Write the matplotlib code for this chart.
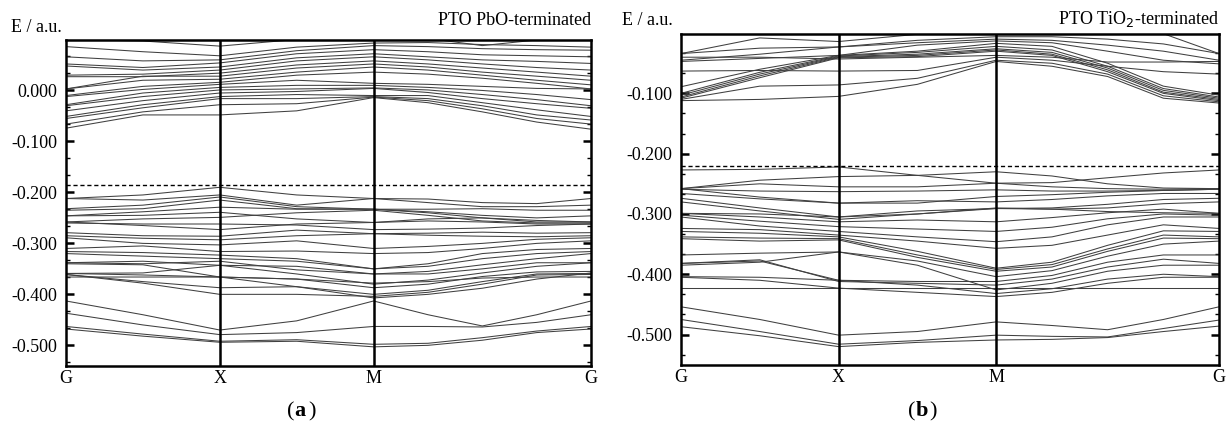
import numpy as np
import matplotlib.pyplot as plt
from matplotlib.ticker import MultipleLocator

plt.rcParams['font.family'] = ['Liberation Serif', 'DejaVu Serif']

# k-path: G, G-X mid, X, X-M mid, M, M-G quarters, G  (M-G is sqrt(2) long)
kpath = [0.0, 0.5, 1.0, 1.5, 2.0, 2.354, 2.707, 3.061, 3.414]
klabels = ['G', 'X', 'M', 'G']
kticks = [0.0, 1.0, 2.0, 3.414]

# (a) PbO-terminated, energies in a.u.
a_upper = [
    [0.100, 0.097, 0.087, 0.100, 0.103, 0.102, 0.088, 0.099, 0.100],
    [0.086, 0.076, 0.068, 0.085, 0.093, 0.094, 0.090, 0.088, 0.085],
    [0.066, 0.058, 0.060, 0.078, 0.088, 0.086, 0.082, 0.080, 0.079],
    [0.052, 0.045, 0.054, 0.072, 0.080, 0.076, 0.070, 0.068, 0.066],
    [0.048, 0.040, 0.046, 0.064, 0.072, 0.066, 0.060, 0.057, 0.053],
    [0.030, 0.032, 0.040, 0.058, 0.066, 0.060, 0.052, 0.045, 0.040],
    [0.027, 0.027, 0.034, 0.050, 0.058, 0.052, 0.044, 0.036, 0.028],
    [0.003, 0.028, 0.028, 0.044, 0.052, 0.046, 0.036, 0.028, 0.020],
    [0.003, 0.020, 0.022, 0.036, 0.046, 0.040, 0.030, 0.020, 0.011],
    [-0.010, 0.008, 0.016, 0.030, 0.036, 0.032, 0.024, 0.014, 0.003],
    [-0.012, 0.002, 0.012, 0.020, 0.014, 0.012, 0.008, 0.004, 0.003],
    [-0.028, -0.005, 0.006, 0.010, 0.010, 0.006, 0.000, -0.008, -0.018],
    [-0.030, -0.012, 0.001, 0.003, 0.005, 0.001, -0.008, -0.018, -0.030],
    [-0.040, -0.020, -0.005, -0.002, 0.004, -0.004, -0.016, -0.026, -0.035],
    [-0.051, -0.028, -0.012, -0.008, -0.010, -0.010, -0.024, -0.038, -0.051],
    [-0.055, -0.034, -0.016, -0.016, -0.012, -0.016, -0.030, -0.048, -0.058],
    [-0.066, -0.042, -0.028, -0.026, -0.013, -0.020, -0.036, -0.055, -0.066],
    [-0.074, -0.048, -0.048, -0.040, -0.014, -0.024, -0.042, -0.062, -0.076],
]
a_middle = [
    [-0.212, -0.205, -0.190, -0.205, -0.212, -0.213, -0.220, -0.222, -0.212],
    [-0.212, -0.215, -0.205, -0.225, -0.212, -0.220, -0.228, -0.228, -0.225],
    [-0.232, -0.225, -0.209, -0.228, -0.233, -0.233, -0.232, -0.235, -0.235],
    [-0.235, -0.232, -0.215, -0.232, -0.233, -0.238, -0.245, -0.250, -0.246],
    [-0.246, -0.238, -0.229, -0.233, -0.233, -0.240, -0.250, -0.258, -0.258],
    [-0.246, -0.245, -0.239, -0.252, -0.259, -0.252, -0.250, -0.255, -0.258],
    [-0.258, -0.252, -0.249, -0.240, -0.235, -0.245, -0.256, -0.260, -0.260],
    [-0.258, -0.265, -0.273, -0.262, -0.259, -0.256, -0.258, -0.262, -0.262],
    [-0.260, -0.262, -0.262, -0.264, -0.273, -0.272, -0.270, -0.265, -0.262],
    [-0.279, -0.285, -0.286, -0.274, -0.281, -0.280, -0.278, -0.280, -0.279],
    [-0.285, -0.290, -0.293, -0.285, -0.281, -0.284, -0.286, -0.287, -0.285],
    [-0.289, -0.300, -0.303, -0.295, -0.310, -0.306, -0.300, -0.292, -0.289],
    [-0.310, -0.305, -0.316, -0.315, -0.320, -0.318, -0.310, -0.300, -0.295],
    [-0.316, -0.318, -0.323, -0.330, -0.350, -0.340, -0.320, -0.312, -0.310],
    [-0.320, -0.325, -0.330, -0.335, -0.350, -0.345, -0.330, -0.320, -0.316],
    [-0.338, -0.335, -0.343, -0.345, -0.360, -0.355, -0.342, -0.330, -0.320],
    [-0.338, -0.340, -0.335, -0.352, -0.360, -0.360, -0.350, -0.338, -0.338],
    [-0.359, -0.358, -0.343, -0.360, -0.380, -0.372, -0.358, -0.345, -0.338],
    [-0.359, -0.362, -0.366, -0.370, -0.387, -0.380, -0.365, -0.356, -0.355],
    [-0.361, -0.375, -0.387, -0.385, -0.400, -0.392, -0.375, -0.360, -0.359],
    [-0.361, -0.378, -0.400, -0.400, -0.404, -0.396, -0.380, -0.362, -0.361],
    [-0.340, -0.342, -0.366, -0.385, -0.407, -0.400, -0.388, -0.370, -0.358],
    [-0.366, -0.366, -0.366, -0.370, -0.378, -0.375, -0.368, -0.366, -0.366],
]
a_lower = [
    [-0.413, -0.440, -0.470, -0.452, -0.413, -0.440, -0.462, -0.440, -0.413],
    [-0.437, -0.460, -0.479, -0.475, -0.463, -0.463, -0.464, -0.455, -0.440],
    [-0.463, -0.478, -0.492, -0.489, -0.498, -0.496, -0.485, -0.472, -0.463],
    [-0.468, -0.482, -0.494, -0.492, -0.503, -0.500, -0.490, -0.475, -0.468],
]
fermi_a = -0.186

# (b) TiO2-terminated
b_upper = [
    [-0.034, -0.008, -0.014, -0.002, 0.008, 0.010, 0.008, -0.001, -0.034],
    [-0.034, -0.025, -0.023, -0.012, -0.006, -0.006, -0.010, -0.018, -0.034],
    [-0.045, -0.035, -0.023, -0.016, -0.010, -0.012, -0.020, -0.030, -0.045],
    [-0.047, -0.042, -0.037, -0.020, -0.013, -0.016, -0.030, -0.045, -0.051],
    [-0.063, -0.062, -0.063, -0.062, -0.040, -0.045, -0.055, -0.064, -0.068],
    [-0.089, -0.060, -0.037, -0.030, -0.017, -0.022, -0.050, -0.088, -0.103],
    [-0.100, -0.065, -0.038, -0.032, -0.022, -0.028, -0.055, -0.092, -0.106],
    [-0.103, -0.068, -0.039, -0.035, -0.026, -0.032, -0.058, -0.095, -0.108],
    [-0.106, -0.071, -0.040, -0.037, -0.028, -0.035, -0.061, -0.098, -0.110],
    [-0.108, -0.074, -0.041, -0.039, -0.030, -0.037, -0.064, -0.100, -0.112],
    [-0.110, -0.088, -0.086, -0.075, -0.045, -0.050, -0.068, -0.104, -0.114],
    [-0.112, -0.110, -0.105, -0.085, -0.047, -0.055, -0.072, -0.108, -0.116],
    [-0.040, -0.040, -0.043, -0.040, -0.037, -0.040, -0.048, -0.048, -0.047],
]
b_middle = [
    [-0.227, -0.226, -0.222, -0.236, -0.249, -0.248, -0.240, -0.232, -0.227],
    [-0.258, -0.244, -0.238, -0.236, -0.230, -0.237, -0.250, -0.257, -0.258],
    [-0.258, -0.250, -0.255, -0.255, -0.249, -0.255, -0.258, -0.259, -0.258],
    [-0.259, -0.262, -0.263, -0.262, -0.260, -0.262, -0.262, -0.261, -0.259],
    [-0.258, -0.272, -0.282, -0.282, -0.271, -0.268, -0.264, -0.261, -0.259],
    [-0.266, -0.275, -0.282, -0.278, -0.280, -0.276, -0.270, -0.266, -0.266],
    [-0.274, -0.290, -0.305, -0.295, -0.291, -0.290, -0.284, -0.276, -0.274],
    [-0.280, -0.295, -0.309, -0.300, -0.291, -0.292, -0.290, -0.283, -0.280],
    [-0.299, -0.305, -0.313, -0.310, -0.313, -0.306, -0.298, -0.292, -0.299],
    [-0.302, -0.312, -0.321, -0.325, -0.329, -0.322, -0.308, -0.300, -0.302],
    [-0.305, -0.320, -0.329, -0.338, -0.346, -0.338, -0.318, -0.305, -0.305],
    [-0.324, -0.326, -0.335, -0.345, -0.357, -0.352, -0.335, -0.318, -0.324],
    [-0.329, -0.332, -0.338, -0.362, -0.390, -0.380, -0.352, -0.328, -0.329],
    [-0.338, -0.340, -0.341, -0.368, -0.392, -0.384, -0.358, -0.335, -0.338],
    [-0.341, -0.345, -0.343, -0.372, -0.395, -0.388, -0.362, -0.340, -0.341],
    [-0.368, -0.365, -0.363, -0.378, -0.404, -0.394, -0.370, -0.350, -0.345],
    [-0.382, -0.378, -0.410, -0.412, -0.412, -0.402, -0.380, -0.368, -0.368],
    [-0.382, -0.376, -0.412, -0.415, -0.418, -0.408, -0.388, -0.375, -0.382],
    [-0.385, -0.380, -0.363, -0.385, -0.426, -0.415, -0.395, -0.385, -0.385],
    [-0.404, -0.405, -0.410, -0.418, -0.432, -0.424, -0.408, -0.400, -0.404],
    [-0.422, -0.422, -0.422, -0.422, -0.422, -0.422, -0.422, -0.422, -0.422],
    [-0.405, -0.410, -0.423, -0.430, -0.437, -0.430, -0.415, -0.405, -0.405],
    [-0.299, -0.300, -0.305, -0.300, -0.290, -0.292, -0.296, -0.298, -0.299],
]
b_lower = [
    [-0.454, -0.475, -0.501, -0.495, -0.479, -0.485, -0.492, -0.475, -0.454],
    [-0.475, -0.495, -0.516, -0.510, -0.501, -0.503, -0.504, -0.490, -0.476],
    [-0.487, -0.502, -0.520, -0.513, -0.509, -0.508, -0.505, -0.495, -0.486],
]
fermi_b = -0.220

fig = plt.figure(figsize=(12.27, 4.25), dpi=100)
ax1 = fig.add_axes([0.0538, 0.1395, 0.4279, 0.7664])
ax2 = fig.add_axes([0.5550, 0.1419, 0.4385, 0.7774])


def draw(ax, bands, fermi, ylim, title, elab_pad, title_pad, elab_dx):
    for b in bands:
        ax.plot(kpath, b, color='#404040', lw=0.75, solid_joinstyle='round')
    ax.axhline(fermi, color='k', lw=1.0, ls=(0, (3, 2)))
    for k in kticks[1:-1]:
        ax.axvline(k, color='k', lw=1.8)
    ax.set_xlim(kticks[0], kticks[-1])
    ax.set_ylim(*ylim)
    ax.set_xticks(kticks)
    ax.set_xticklabels(klabels)
    ax.yaxis.set_major_locator(MultipleLocator(0.1))
    ax.yaxis.set_minor_locator(MultipleLocator(0.1 / 3))
    ax.yaxis.set_major_formatter(plt.FuncFormatter(lambda v, p: '%.3f' % v))
    ax.tick_params(axis='y', which='major', direction='in', length=6, width=1.8,
                   left=True, right=True, labelsize=13, pad=6)
    ax.tick_params(axis='y', which='minor', direction='in', length=3, width=1,
                   left=True, right=True)
    ax.tick_params(axis='x', length=0, labelsize=13, pad=3)
    for s in ax.spines.values():
        s.set_linewidth(1.8)
    ax.text(elab_dx, 1.0 + elab_pad, 'E / a.u.', transform=ax.transAxes,
            ha='right', va='bottom', fontsize=13)
    ax.text(1.0, 1.0 + title_pad, title, transform=ax.transAxes,
            ha='right', va='bottom', fontsize=13)


draw(ax1, a_upper + a_middle + a_lower, fermi_a, (-0.54, 0.099),
     'PTO PbO-terminated', 0.012, 0.035, -0.008)
draw(ax2, b_upper + b_middle + b_lower, fermi_b, (-0.55, -0.002),
     'PTO TiO$_2$-terminated', 0.016, 0.016, -0.015)

fig.text(0.240, 0.032, '(', fontsize=16, ha='right', va='center')
fig.text(0.240, 0.032, 'a', fontsize=16, ha='left', va='center', weight='bold')
fig.text(0.2515, 0.032, ')', fontsize=16, ha='left', va='center')
fig.text(0.746, 0.032, '(', fontsize=16, ha='right', va='center')
fig.text(0.746, 0.032, 'b', fontsize=16, ha='left', va='center', weight='bold')
fig.text(0.7575, 0.032, ')', fontsize=16, ha='left', va='center')

fig.savefig('out.png', dpi=100)
